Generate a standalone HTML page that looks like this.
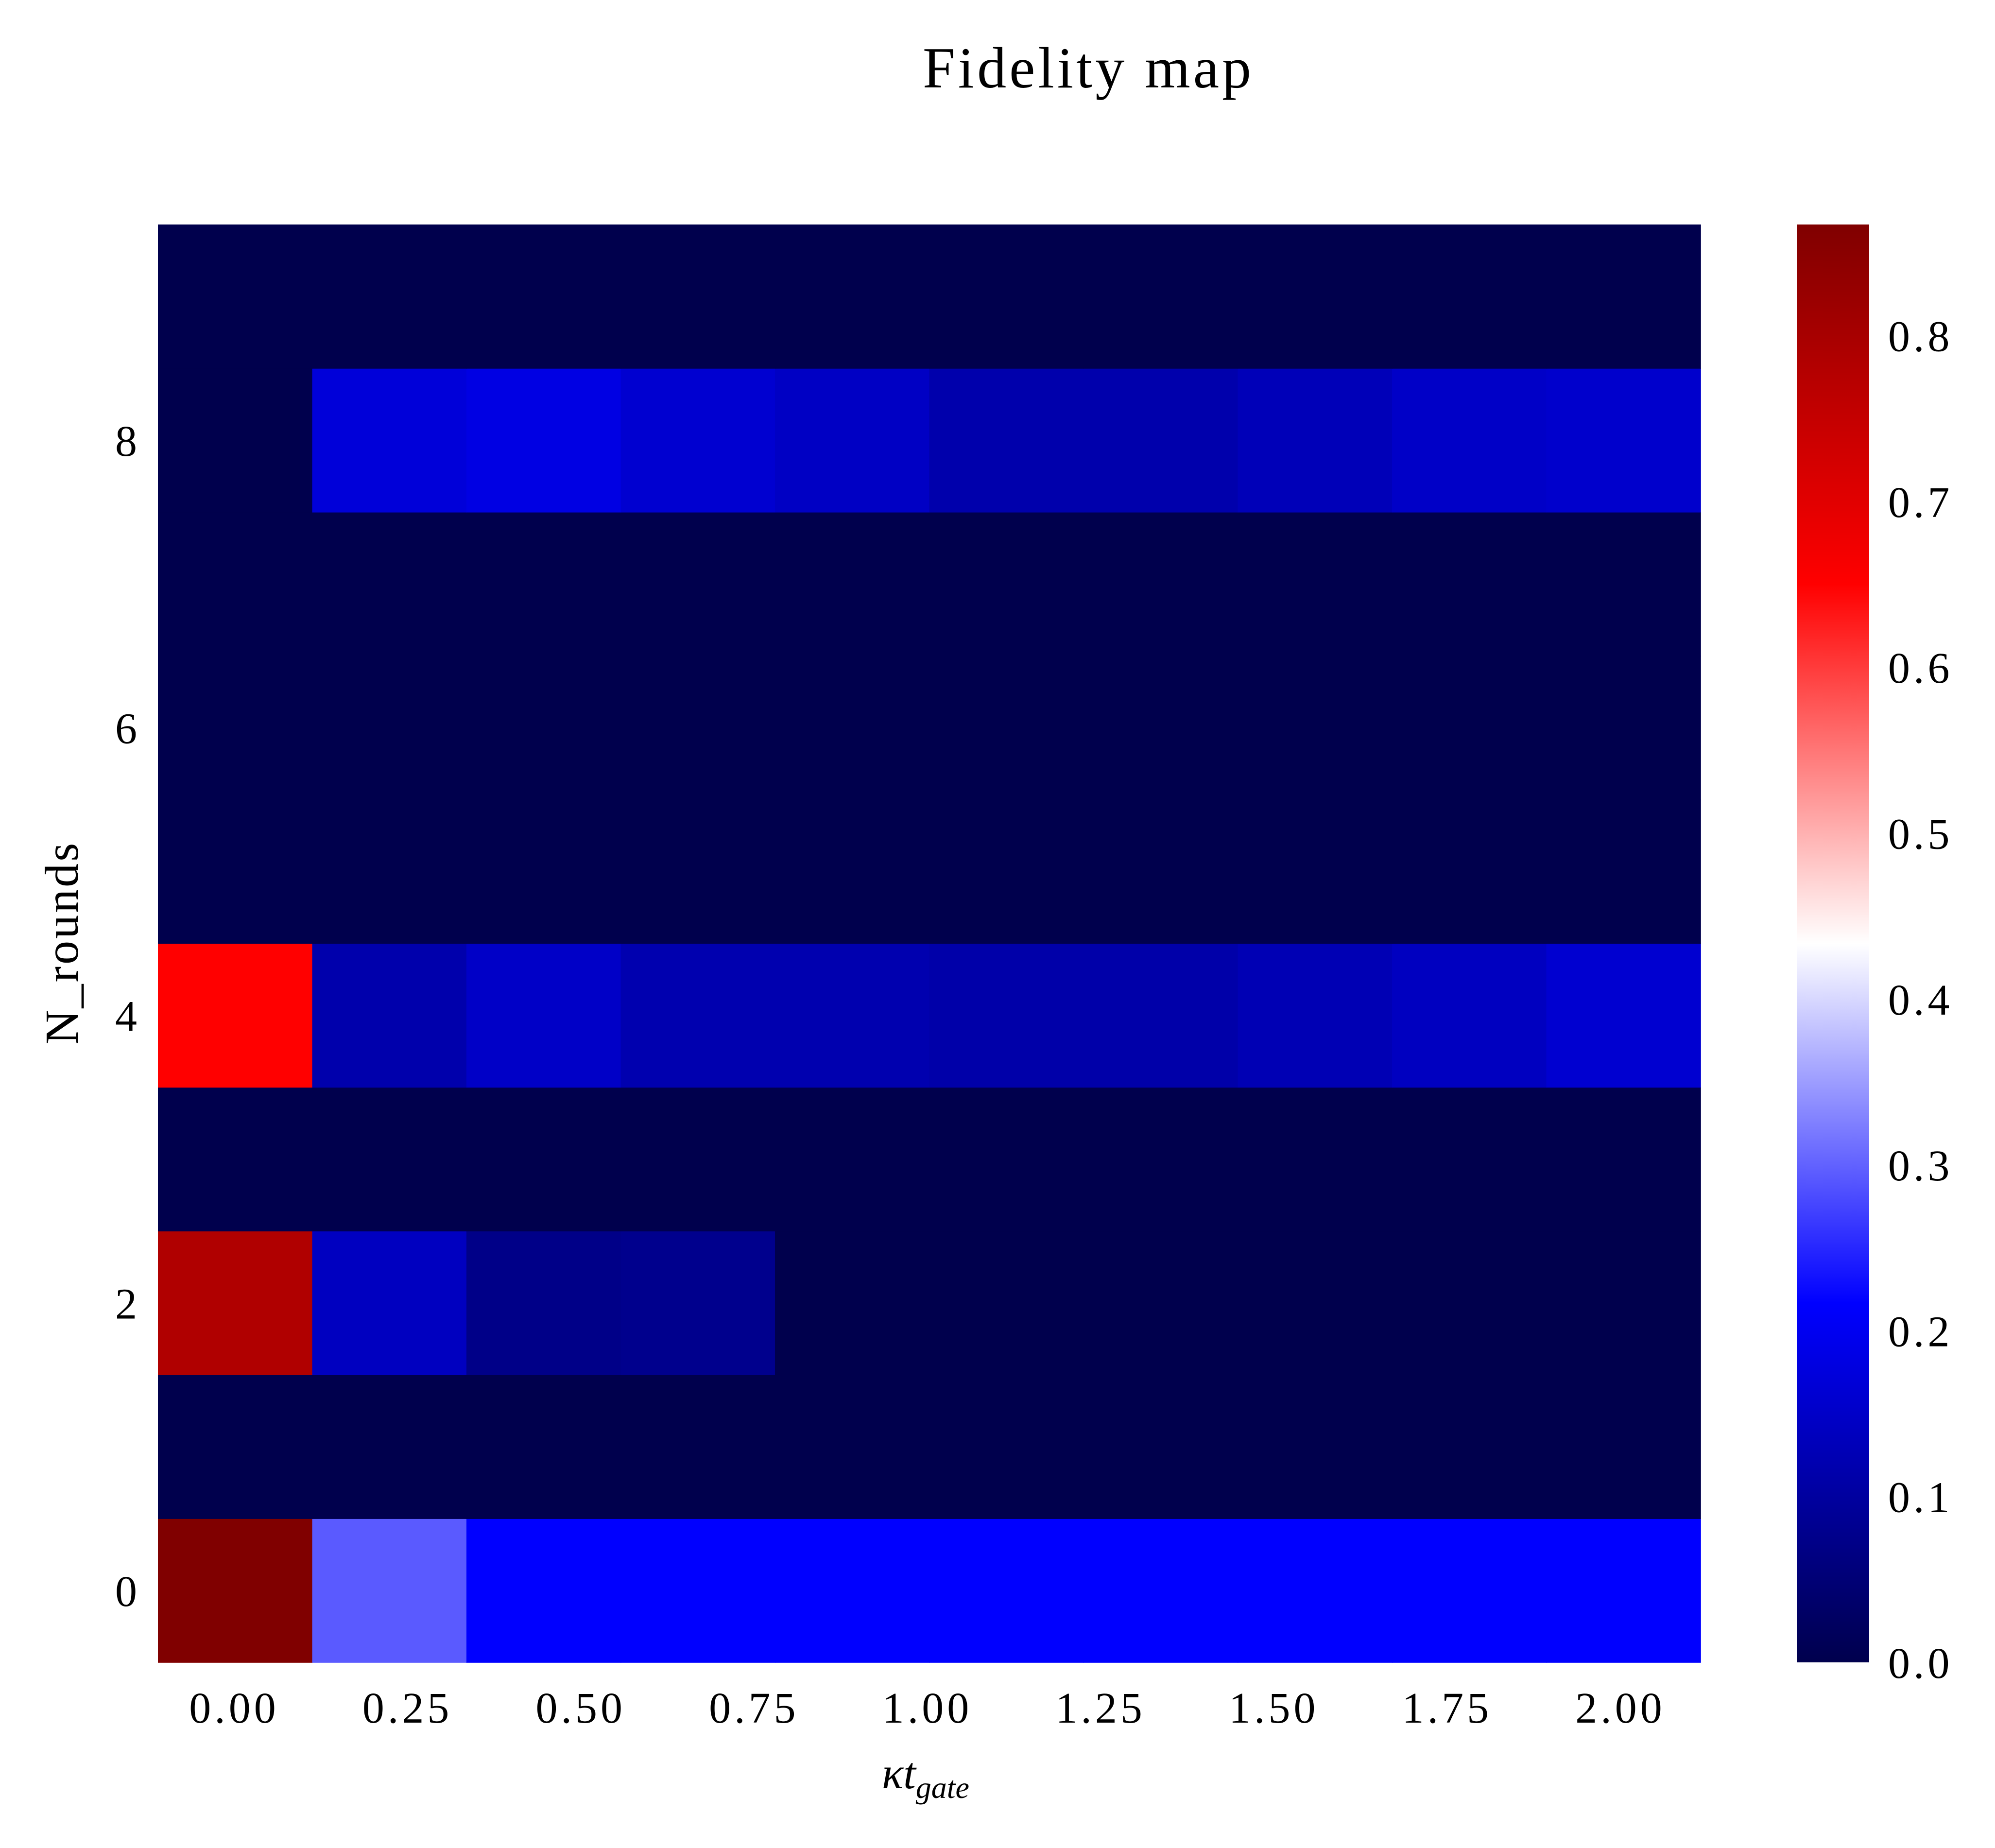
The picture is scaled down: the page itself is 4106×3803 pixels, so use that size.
<!DOCTYPE html>
<html><head><meta charset="utf-8"><style>
html,body{margin:0;padding:0;background:#fff}
svg text{font-family:"Liberation Serif",serif;fill:#000}
</style></head><body>
<svg id="chart" width="4106" height="3798" viewBox="0 0 4106 3798" xmlns="http://www.w3.org/2000/svg">
<text x="2240" y="180" font-size="120" letter-spacing="6" text-anchor="middle">Fidelity map</text>
<g id="cells"></g>
<g id="yticks"></g>
<g id="xticks"></g>
<text x="1905" y="3680" font-size="92" text-anchor="middle" font-style="italic">κt<tspan font-size="64" dy="20">gate</tspan></text>
<text transform="translate(160,1940) rotate(-90)" font-size="98" letter-spacing="4" text-anchor="middle">N_rounds</text>
<defs><linearGradient id="cbgrad" x1="0" y1="1" x2="0" y2="0">
</linearGradient></defs>
<rect id="cbar" x="3699" y="462" width="148" height="2959" fill="url(#cbgrad)"/>
<g id="cbticks"></g>
</svg>
<script>
const xTickLabels = ["0.00","0.25","0.50","0.75","1.00","1.25","1.50","1.75","2.00"];
const yTickLabels = ["0","2","4","6","8"];
const cbTickLabels = ["0.0","0.1","0.2","0.3","0.4","0.5","0.6","0.7","0.8"];
const rowN = [0,1,2,3,4,5,6,7,8,9];
const row0 = [0.867,0.293,0.217,0.217,0.217,0.217,0.217,0.217,0.217,0.217];
const row1 = [0,0,0,0,0,0,0,0,0,0];
const row2 = [0.785,0.14,0.072,0.078,0,0,0,0,0,0];
const row3 = [0,0,0,0,0,0,0,0,0,0];
const row4 = [0.65,0.116,0.149,0.12,0.12,0.112,0.112,0.126,0.14,0.16];
const row5 = [0,0,0,0,0,0,0,0,0,0];
const row6 = [0,0,0,0,0,0,0,0,0,0];
const row7 = [0,0,0,0,0,0,0,0,0,0];
const row8 = [0,0.17,0.183,0.16,0.145,0.116,0.116,0.13,0.149,0.155];
const row9 = [0,0,0,0,0,0,0,0,0,0];
const rows = [row0,row1,row2,row3,row4,row5,row6,row7,row8,row9];
const vmin = 0, vmax = 0.867;

const L=325,R=3500,T=462,B=3421;
const nCols = row0.length, nRows = rows.length;
const cw=(R-L)/nCols, rh=(B-T)/nRows;
const xScale = c => L + c*cw;
const yScale = r => B - (r+1)*rh;
const tickX = v => 482 + (v/2.0)*(3335-482);
const NS="http://www.w3.org/2000/svg";
function seismic(t){
  t=Math.max(0,Math.min(1,t));
  let r,g,b;
  if(t<0.25){r=0;g=0;b=0.3+0.7*t/0.25;}
  else if(t<0.5){const s=(t-0.25)/0.25;r=s;g=s;b=1;}
  else if(t<0.75){const s=(t-0.5)/0.25;r=1;g=1-s;b=1-s;}
  else {const s=(t-0.75)/0.25;r=1-0.5*s;g=0;b=0;}
  return `rgb(${Math.round(r*255)},${Math.round(g*255)},${Math.round(b*255)})`;
}
const cells=document.getElementById('cells');
rows.forEach((row,ri)=>{row.forEach((v,ci)=>{
  const el=document.createElementNS(NS,'rect');
  el.setAttribute('x',xScale(ci));el.setAttribute('y',yScale(rowN[ri]));
  el.setAttribute('width',cw+0.8);el.setAttribute('height',rh+0.8);
  el.setAttribute('fill',seismic((v-vmin)/(vmax-vmin)));
  
  
  cells.appendChild(el);
});});
const yt=document.getElementById('yticks');
yTickLabels.forEach(l=>{
  const el=document.createElementNS(NS,'text');
  el.setAttribute('x',282);el.setAttribute('y',yScale(+l)+rh/2+32);
  el.setAttribute('font-size','90');el.setAttribute('text-anchor','end');
  el.textContent=l;
  
  
  yt.appendChild(el);
});
const xt=document.getElementById('xticks');
xTickLabels.forEach(l=>{
  const el=document.createElementNS(NS,'text');
  el.setAttribute('x',tickX(+l));
  el.setAttribute('y',3545);
  el.setAttribute('font-size','90');el.setAttribute('letter-spacing','7');el.setAttribute('text-anchor','middle');
  el.textContent=l;
  
  
  xt.appendChild(el);
});
const grad=document.getElementById('cbgrad');
for(let i=0;i<=20;i++){
  const s=document.createElementNS(NS,'stop');
  s.setAttribute('offset',(i/20));
  s.setAttribute('stop-color',seismic(i/20));
  grad.appendChild(s);
}
const cbt=document.getElementById('cbticks');
const cbY = v => B - (v-vmin)/(vmax-vmin)*(B-T);
cbTickLabels.forEach(l=>{
  const el=document.createElementNS(NS,'text');
  el.setAttribute('x',3886);el.setAttribute('y',cbY(+l)+32);
  el.setAttribute('font-size','90');el.setAttribute('letter-spacing','7');
  el.textContent=l;
  
  
  cbt.appendChild(el);
});
</script>
</body></html>
